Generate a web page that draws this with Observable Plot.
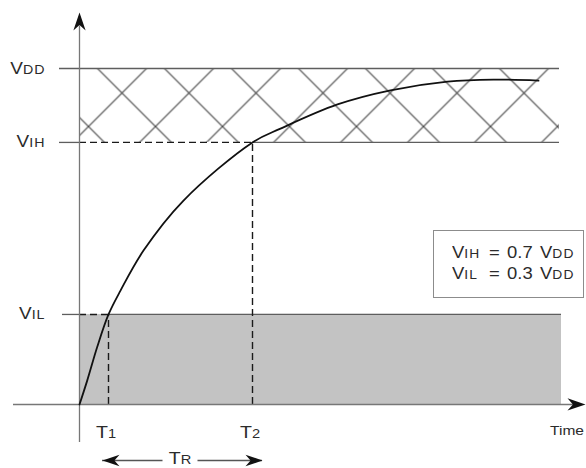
<!DOCTYPE html>
<html><head><meta charset="utf-8">
<script src="https://cdn.jsdelivr.net/npm/d3@7"></script>
<script src="https://cdn.jsdelivr.net/npm/@observablehq/plot@0.6"></script>
<style>
body{margin:0;background:#fff;font-family:"Liberation Sans",Arial,Helvetica,sans-serif;}
#wrap{position:relative;width:586px;height:468px;overflow:hidden;}
#wrap svg{display:block;}
.legend{position:absolute;left:433px;top:230px;width:151px;height:68px;border:1.5px solid #8c8c8c;box-sizing:border-box;background:#fff;color:#2b2b2b;font-size:16px;line-height:20px;padding:12px 0 0 18px;}
.legend .ln{transform:scaleX(1.15);transform-origin:0 50%;white-space:pre;word-spacing:2px;}
.legend .s{font-size:12px;letter-spacing:1px;}
.legend .s.first{display:inline-block;width:15px;}
</style></head><body><div id="wrap"></div>
<script>
// ---- data ----
const levelNames = ["V{DD}", "V{IH}", "V{IL}"];
const levelValues = [1.0, 0.78, 0.268];           // fraction of VDD (as drawn)
const timeNames = ["T{1}", "T{2}"];
const timeValues = [0.29, 1.73];                  // time units
const curveT = [0, 0.077, 0.177, 0.29, 0.41, 0.64, 1.04, 1.73, 2.01, 2.58, 3.11, 3.68, 4.14, 4.59];
const curveV = [0, 0.071, 0.171, 0.268, 0.339, 0.458, 0.607, 0.78, 0.821, 0.893, 0.935, 0.961, 0.967, 0.964];
const legendLines = ["V{IH} = 0.7 V{DD}", "V{IL} = 0.3 V{DD}"];
const riseLabel = "T{R}";
const axisLabel = "Time";

// ---- tables built from the arrays ----
const [VDD, VIH, VIL] = levelValues;
const [T1, T2] = timeValues;
const levels = levelNames.map((name, i) => ({name, v: levelValues[i]}));
const times = timeNames.map((name, i) => ({name, t: timeValues[i]}));
const curve = curveT.map((t, i) => ({t, v: curveV[i]}));

// ---- layout (domain extents of the drawing) ----
const xDomain = [-0.79, 5.07], yDomain = [-0.1905, 1.2024];
const axisX = [-0.66, 5.06], axisY = [-0.113, 1.1667];
const bandX = [-0.2, 4.8];
const ink = "#2b2b2b";

function barb(angle) {
  const a = angle * Math.PI / 180, c = Math.cos(a), s = Math.sin(a);
  return {draw(ctx, size) {
    const r = Math.sqrt(size / Math.PI);
    [[0, 0], [-2 * r, -0.68 * r], [-1.4 * r, 0], [-2 * r, 0.68 * r]].forEach(([x, y], i) => {
      const X = x * c - y * s, Y = x * s + y * c;
      i ? ctx.lineTo(X, Y) : ctx.moveTo(X, Y);
    });
    ctx.closePath();
  }};
}
function parts(s) {
  const out = [], re = /([^{]+)|\{([^}]*)\}/g; let m;
  while ((m = re.exec(s))) out.push(m[1] !== undefined ? {t: m[1], sub: false} : {t: m[2], sub: true});
  return out;
}

const hLines = [
  {v: VDD, a: bandX[0], b: bandX[1]},
  {v: VIH, a: bandX[0], b: 0}, {v: VIH, a: T2, b: bandX[1]},
  {v: VIL, a: bandX[0] + 0.03, b: 0}, {v: VIL, a: T1, b: bandX[1] + 0.02}
];
const hDash = [{v: VIH, a: 0, b: T2}, {v: VIL, a: 0, b: T1}];
const vDash = [{t: T1, a: 0, b: VIL}, {t: T2, a: 0, b: VIH}];
const trMid = (T1 + T2) / 2, trGap = 0.175;
const trSegs = [{a: T1 - 0.06, b: trMid - trGap}, {a: trMid + trGap, b: T2 + 0.10}];

const svg = Plot.plot({
  width: 586, height: 468, margin: 0,
  x: {domain: xDomain, axis: null},
  y: {domain: yDomain, axis: null},
  style: {fontFamily: '"Liberation Sans", Arial, sans-serif', background: "#fff"},
  marks: [
    Plot.rect([{}], {x1: () => 0, x2: () => bandX[1] + 0.02, y1: () => 0, y2: () => VIL, fill: "#c3c3c3"}),
    Plot.rect([{}], {x1: () => 0, x2: () => bandX[1], y1: () => VIH, y2: () => VDD, fill: "url(#xhatch)"}),
    Plot.ruleY(hLines, {y: "v", x1: "a", x2: "b", stroke: "#5e5e5e", strokeWidth: 1.3}),
    Plot.ruleY(hDash, {y: "v", x1: "a", x2: "b", stroke: "#1a1a1a", strokeWidth: 1.4, strokeDasharray: "7,4"}),
    Plot.ruleX(vDash, {x: "t", y1: "a", y2: "b", stroke: "#1a1a1a", strokeWidth: 1.4, strokeDasharray: "7,4"}),
    Plot.ruleX([{}], {x: () => 0, y1: () => axisY[0], y2: () => axisY[1] - 0.04, stroke: "#777", strokeWidth: 1.3}),
    Plot.ruleY([{}], {y: () => 0, x1: () => axisX[0], x2: () => axisX[1] - 0.1, stroke: "#777", strokeWidth: 1.3}),
    Plot.line(curve, {x: "t", y: "v", curve: "catmull-rom", stroke: "#111", strokeWidth: 1.8}),
    Plot.dot([{}], {x: () => 0, y: () => axisY[1], r: 9, symbol: barb(-90), fill: "#111", stroke: null}),
    Plot.dot([{}], {x: () => axisX[1], y: () => 0, r: 9, symbol: barb(0), fill: "#111", stroke: null}),
    Plot.ruleY(trSegs, {y: () => 0, x1: "a", x2: "b", dy: 56, stroke: "#555", strokeWidth: 1.3}),
    Plot.dot([{}], {x: () => trSegs[0].a, y: () => 0, dy: 56, r: 8.5, symbol: barb(180), fill: "#111", stroke: null}),
    Plot.dot([{}], {x: () => trSegs[1].b, y: () => 0, dy: 56, r: 8.5, symbol: barb(0), fill: "#111", stroke: null}),
    Plot.text(levels, {x: () => 0, y: "v", text: "name", textAnchor: "end", lineAnchor: "bottom", dx: -34, dy: 5, fontSize: 16.5, fill: ink}),
    Plot.text(times, {x: "t", y: () => 0, text: "name", textAnchor: "middle", lineAnchor: "bottom", dx: -2, dy: 34, fontSize: 17, fill: ink}),
    Plot.text([riseLabel], {x: () => trMid, y: () => 0, text: d => d, textAnchor: "middle", lineAnchor: "bottom", dy: 60, fontSize: 17, fill: ink}),
    Plot.text([axisLabel], {x: () => axisX[1] - 0.015, y: () => 0, text: d => d, textAnchor: "end", lineAnchor: "bottom", dy: 31, fontSize: 13.5, fill: ink})
  ]
});

// hatch pattern for the high band
const defs = d3.select(svg).insert("defs", ":first-child");
const pat = defs.append("pattern").attr("id", "xhatch").attr("patternUnits", "userSpaceOnUse")
  .attr("width", 67).attr("height", 67).attr("x", 21.5).attr("y", -7.5);
pat.append("path").attr("d", "M-3,-3L70,70M70,-3L-3,70").attr("stroke", "#444").attr("stroke-width", 1.15).attr("fill", "none");

// small-caps style subscripts and slightly wide lettering
d3.select(svg).selectAll("text").each(function () {
  const s = this.textContent;
  if (s.includes("{")) {
    while (this.firstChild) this.removeChild(this.firstChild);
    for (const p of parts(s)) {
      const ts = document.createElementNS("http://www.w3.org/2000/svg", "tspan");
      ts.textContent = p.t;
      if (p.sub) { ts.setAttribute("font-size", "0.75em"); ts.setAttribute("letter-spacing", "0.07em"); }
      this.appendChild(ts);
    }
  }
  const tr = this.getAttribute("transform");
  if (tr) this.setAttribute("transform", tr + " scale(1.15,1)");
  else {
    const x = +this.getAttribute("x") || 0, y = +this.getAttribute("y") || 0;
    this.removeAttribute("x"); this.removeAttribute("y");
    this.setAttribute("transform", `translate(${x},${y}) scale(1.15,1)`);
  }
});

const wrap = document.getElementById("wrap");
wrap.appendChild(svg);
const legend = document.createElement("div");
legend.className = "legend";
for (const line of legendLines) {
  const d = document.createElement("div");
  d.className = "ln";
  let subCount = 0;
  for (const p of parts(line)) {
    const sp = document.createElement("span");
    if (p.sub) sp.className = subCount++ === 0 ? "s first" : "s";
    sp.textContent = p.t;
    d.appendChild(sp);
  }
  legend.appendChild(d);
}
wrap.appendChild(legend);
</script></body></html>
